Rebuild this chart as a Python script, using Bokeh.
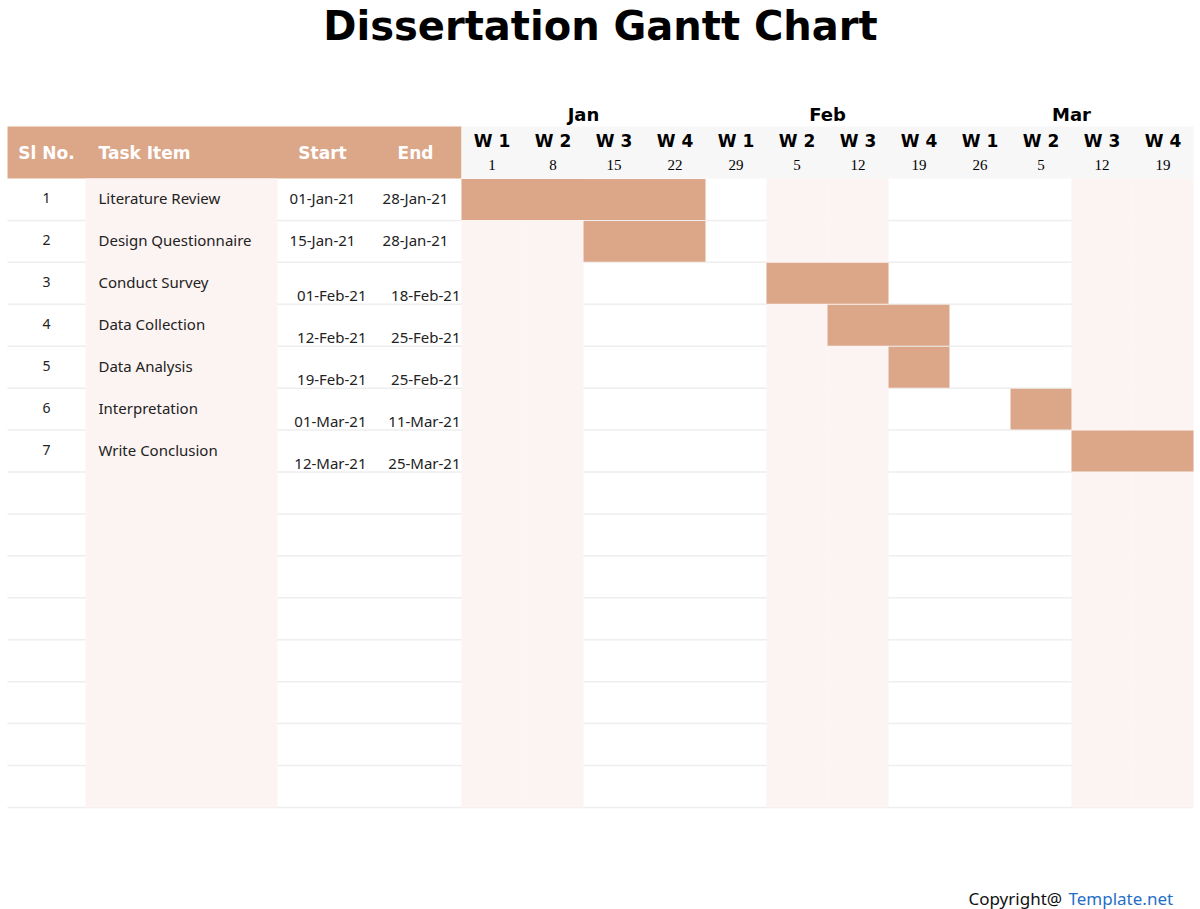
from bokeh.plotting import figure
from bokeh.models import Range1d
from bokeh.core.properties import value
from bokeh.embed import file_html
from bokeh.resources import INLINE

# ---------------- data ----------------
sl_no = ["1", "2", "3", "4", "5", "6", "7"]
tasks = ["Literature  Review", "Design  Questionnaire", "Conduct  Survey",
         "Data  Collection", "Data  Analysis", "Interpretation", "Write  Conclusion"]
starts = ["01-Jan-21", "15-Jan-21", "01-Feb-21", "12-Feb-21", "19-Feb-21", "01-Mar-21", "12-Mar-21"]
ends = ["28-Jan-21", "28-Jan-21", "18-Feb-21", "25-Feb-21", "25-Feb-21", "11-Mar-21", "25-Mar-21"]
bar_start_week = [0, 2, 5, 6, 7, 9, 10]
bar_weeks = [4, 2, 2, 2, 1, 1, 2]
months = ["Jan", "Feb", "Mar"]
week_labels = ["W 1", "W 2", "W 3", "W 4", "W 1", "W 2", "W 3", "W 4", "W 1", "W 2", "W 3", "W 4"]
week_days = ["1", "8", "15", "22", "29", "5", "12", "19", "26", "5", "12", "19"]
month_first_week = [0, 4, 8]
shaded_weeks = [0, 1, 5, 6, 10, 11]
n_rows = 15

# ---------------- layout ----------------
W, H = 1200, 909
X0, SL_END, TASK_END, GX0, WEEK_W = 7, 85, 277, 461, 61
N_WEEKS = len(week_labels)
GX1 = GX0 + WEEK_W * N_WEEKS
HEAD_TOP, HEAD_BOT = 126, 178
ROW_H = 41.93
BODY_BOT = HEAD_BOT + ROW_H * n_rows

ORANGE = "#DCA789"
PINK = "#FCF4F2"
GREY = "#F7F7F7"
LINE = "#EEEEEE"

p = figure(width=W, height=H, x_range=Range1d(0, W), y_range=Range1d(H, 0),
           output_backend="svg", toolbar_location=None, min_border=0)
p.axis.visible = False
p.grid.visible = False
p.outline_line_color = None
p.background_fill_color = "white"
p.border_fill_color = "white"

def wx(w):
    return GX0 + w * WEEK_W

def ry(i):
    return HEAD_BOT + i * ROW_H

# header bands
p.quad(left=[X0], right=[GX0], top=[HEAD_TOP], bottom=[HEAD_BOT], fill_color=ORANGE, line_color=None)
p.quad(left=[GX0], right=[GX1], top=[HEAD_TOP], bottom=[HEAD_BOT], fill_color=GREY, line_color=None)

# row lines
ys = [ry(i) for i in range(1, n_rows + 1)]
p.segment(x0=[X0] * n_rows, x1=[GX1] * n_rows, y0=ys, y1=ys, line_color=LINE, line_width=1.5)

# shaded columns
p.quad(left=[SL_END], right=[TASK_END], top=[HEAD_BOT], bottom=[BODY_BOT], fill_color=PINK, line_color=None)
p.quad(left=[wx(w) for w in shaded_weeks], right=[wx(w + 1) for w in shaded_weeks],
       top=[HEAD_BOT] * len(shaded_weeks), bottom=[BODY_BOT] * len(shaded_weeks),
       fill_color=PINK, line_color=None)

# bars
n = len(tasks)
p.quad(left=[wx(s) for s in bar_start_week],
       right=[wx(s + d) for s, d in zip(bar_start_week, bar_weeks)],
       top=[ry(i) + 0.5 for i in range(n)], bottom=[ry(i + 1) - 0.5 for i in range(n)],
       fill_color=ORANGE, line_color=None)

# title
p.text(x=[W / 2], y=[25], text=["Dissertation Gantt Chart"], text_font=value("DejaVu Sans"),
       text_font_style="bold", text_font_size="40px", text_align="center",
       text_baseline="middle", text_color="black")

# header texts
hy = (HEAD_TOP + HEAD_BOT) / 2
hfont = value("DejaVu Sans")
p.text(x=[46], y=[hy], text=["Sl No."], text_font=hfont, text_font_style="bold",
       text_font_size="17px", text_align="center", text_baseline="middle", text_color="white")
p.text(x=[98], y=[hy], text=["Task Item"], text_font=hfont, text_font_style="bold",
       text_font_size="17px", text_align="left", text_baseline="middle", text_color="white")
p.text(x=[322, 415], y=[hy, hy], text=["Start", "End"], text_font=hfont, text_font_style="bold",
       text_font_size="17px", text_align="center", text_baseline="middle", text_color="white")

# month labels
p.text(x=[wx(w + 2) for w in month_first_week], y=[114] * len(months), text=months,
       text_font=hfont, text_font_style="bold", text_font_size="18px",
       text_align="center", text_baseline="middle", text_color="black")
# week labels
wc = [wx(w + 0.5) for w in range(N_WEEKS)]
p.text(x=wc, y=[140] * N_WEEKS, text=week_labels, text_font=hfont, text_font_style="bold",
       text_font_size="17px", text_align="center", text_baseline="middle", text_color="black")
p.text(x=wc, y=[164] * N_WEEKS, text=week_days, text_font=value("Liberation Serif"),
       text_font_size="15px", text_align="center", text_baseline="middle", text_color="black")

# body texts
bfont = value("Noto Sans")
rc = [ry(i) + ROW_H / 2 - 1 for i in range(n)]
p.text(x=[46] * n, y=rc, text=sl_no, text_font=bfont, text_font_size="14px",
       text_align="center", text_baseline="middle", text_color="#222222")
p.text(x=[98] * n, y=rc, text=tasks, text_font=bfont, text_font_size="15px",
       text_align="left", text_baseline="middle", text_color="#222222")
# first two rows: centred dates; remaining rows: lower, right aligned
p.text(x=[322, 322], y=rc[:2], text=starts[:2], text_font=bfont, text_font_size="15px",
       text_align="center", text_baseline="middle", text_color="#222222")
p.text(x=[415, 415], y=rc[:2], text=ends[:2], text_font=bfont, text_font_size="15px",
       text_align="center", text_baseline="middle", text_color="#222222")
lo = [ry(i) + ROW_H / 2 + 12 for i in range(2, n)]
p.text(x=[366] * (n - 2), y=lo, text=starts[2:], text_font=bfont, text_font_size="15px",
       text_align="right", text_baseline="middle", text_color="#222222")
p.text(x=[460] * (n - 2), y=lo, text=ends[2:], text_font=bfont, text_font_size="15px",
       text_align="right", text_baseline="middle", text_color="#222222")

# copyright
p.text(x=[1066], y=[898], text=["Copyright@ "], text_font=bfont, text_font_size="17px",
       text_align="right", text_baseline="middle", text_color="#111111")
p.text(x=[1068], y=[898], text=["Template.net"], text_font=bfont, text_font_size="17px",
       text_align="left", text_baseline="middle", text_color="#1F6FC5")

open("out.html", "w").write(file_html(p, INLINE))
